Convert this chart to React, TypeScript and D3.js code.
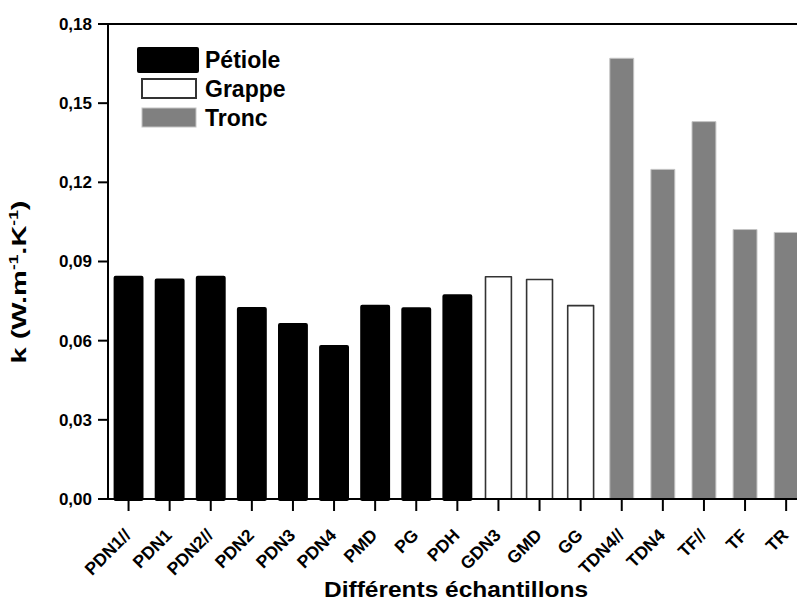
import React from 'react';
import * as d3 from 'd3';

// sample names and thermal conductivity k (W.m-1.K-1)
const petioleNames = ['PDN1//', 'PDN1', 'PDN2//', 'PDN2', 'PDN3', 'PDN4', 'PMD', 'PG', 'PDH'];
const petioleValues = [0.0846, 0.0836, 0.0846, 0.0728, 0.0667, 0.0584, 0.0736, 0.0727, 0.0776];
const grappeNames = ['GDN3', 'GMD', 'GG'];
const grappeValues = [0.0845, 0.0835, 0.0736];
const troncNames = ['TDN4//', 'TDN4', 'TF//', 'TF', 'TR'];
const troncValues = [0.1672, 0.1251, 0.1432, 0.1023, 0.1012];
const yTicks = [0, 0.03, 0.06, 0.09, 0.12, 0.15, 0.18];
const legendLabels = ['Pétiole', 'Grappe', 'Tronc'];

const FONT = '"Liberation Sans", Arial, sans-serif';

type Bar = { name: string; value: number; group: number };

const bars: Bar[] = [
  ...petioleNames.map((name, i) => ({ name, value: petioleValues[i], group: 0 })),
  ...grappeNames.map((name, i) => ({ name, value: grappeValues[i], group: 1 })),
  ...troncNames.map((name, i) => ({ name, value: troncValues[i], group: 2 })),
];

// per-group look: fill, stroke, stroke width, inset
const styles = [
  { fill: '#000', stroke: '#000', sw: 4, inset: 0 },
  { fill: '#fff', stroke: '#333', sw: 1.6, inset: 0 },
  { fill: '#808080', stroke: '#c4c4c4', sw: 1, inset: 1 },
];

export default function App() {
  const width = 797;
  const height = 601;
  const left = 108;
  const top = 24;
  const bottom = 499;
  const step = 41.1;

  const x = d3
    .scaleBand<string>()
    .domain(bars.map(d => d.name))
    .range([left, left + step * bars.length])
    .paddingInner(0.37)
    .paddingOuter(0.185);

  const y = d3.scaleLinear().domain([0, 0.18]).range([bottom, top]);
  const fmt = (v: number) => d3.format('.2f')(v).replace('.', ',');
  const bw = x.bandwidth();

  return (
    <svg
      width={width}
      height={height}
      style={{ position: 'absolute', left: 0, top: 0, background: '#fff' }}
      fontFamily={FONT}
      fontWeight="bold"
    >
      {/* bars */}
      {bars.map(d => {
        const s = styles[d.group];
        const x0 = x(d.name)! + s.inset;
        const w = bw - 2 * s.inset;
        const yTop = y(d.value) + s.sw / 2;
        return (
          <rect
            key={d.name}
            x={x0}
            y={yTop}
            width={w}
            height={bottom - yTop}
            fill={s.fill}
            stroke={s.stroke}
            strokeWidth={s.sw}
            strokeLinejoin="round"
          />
        );
      })}

      {/* frame */}
      <line x1={left} x2={width} y1={top} y2={top} stroke="#000" strokeWidth={2} />
      <line x1={left} x2={width} y1={bottom} y2={bottom} stroke="#000" strokeWidth={2} />
      <line x1={left} x2={left} y1={top - 1} y2={bottom + 1} stroke="#000" strokeWidth={2} />

      {/* y axis */}
      {yTicks.map(t => (
        <g key={t} transform={`translate(0,${y(t)})`}>
          <line x1={left - 10} x2={left} stroke="#000" strokeWidth={2} />
          <text x={left - 16} dy="0.35em" textAnchor="end" fontSize={17}>
            {fmt(t)}
          </text>
        </g>
      ))}
      <text
        transform={`translate(26,${282}) rotate(-90) scale(1.45,1)`}
        textAnchor="middle"
        fontSize={20}
      >
        k (W.m<tspan dy={-8} fontSize={12}>-1</tspan>
        <tspan dy={8}>.K</tspan>
        <tspan dy={-8} fontSize={12}>-1</tspan>
        <tspan dy={8}>)</tspan>
      </text>

      {/* x axis */}
      {bars.map(d => {
        const cx = x(d.name)! + bw / 2;
        return (
          <g key={d.name}>
            <line x1={cx} x2={cx} y1={bottom} y2={bottom + 12} stroke="#000" strokeWidth={2} />
            <text
              transform={`translate(${cx - 1},${bottom + 33}) rotate(-45)`}
              textAnchor="end"
              dy="0.35em"
              fontSize={17.5}
            >
              {d.name}
            </text>
          </g>
        );
      })}
      <text x={456} y={597} textAnchor="middle" fontSize={22} textLength={264} lengthAdjust="spacingAndGlyphs">
        Différents échantillons
      </text>

      {/* legend */}
      <g>
        <rect x={139} y={49} width={58} height={22} fill="#000" stroke="#000" strokeWidth={4} strokeLinejoin="round" />
        <rect x={142} y={79} width={54} height={19} fill="#fff" stroke="#333" strokeWidth={2} />
        <rect x={142} y={108} width={54} height={19} fill="#808080" stroke="#c4c4c4" strokeWidth={1} />
        {legendLabels.map((l, i) => (
          <text key={l} x={205} y={68 + i * 29} fontSize={23}>
            {l}
          </text>
        ))}
      </g>
    </svg>
  );
}
